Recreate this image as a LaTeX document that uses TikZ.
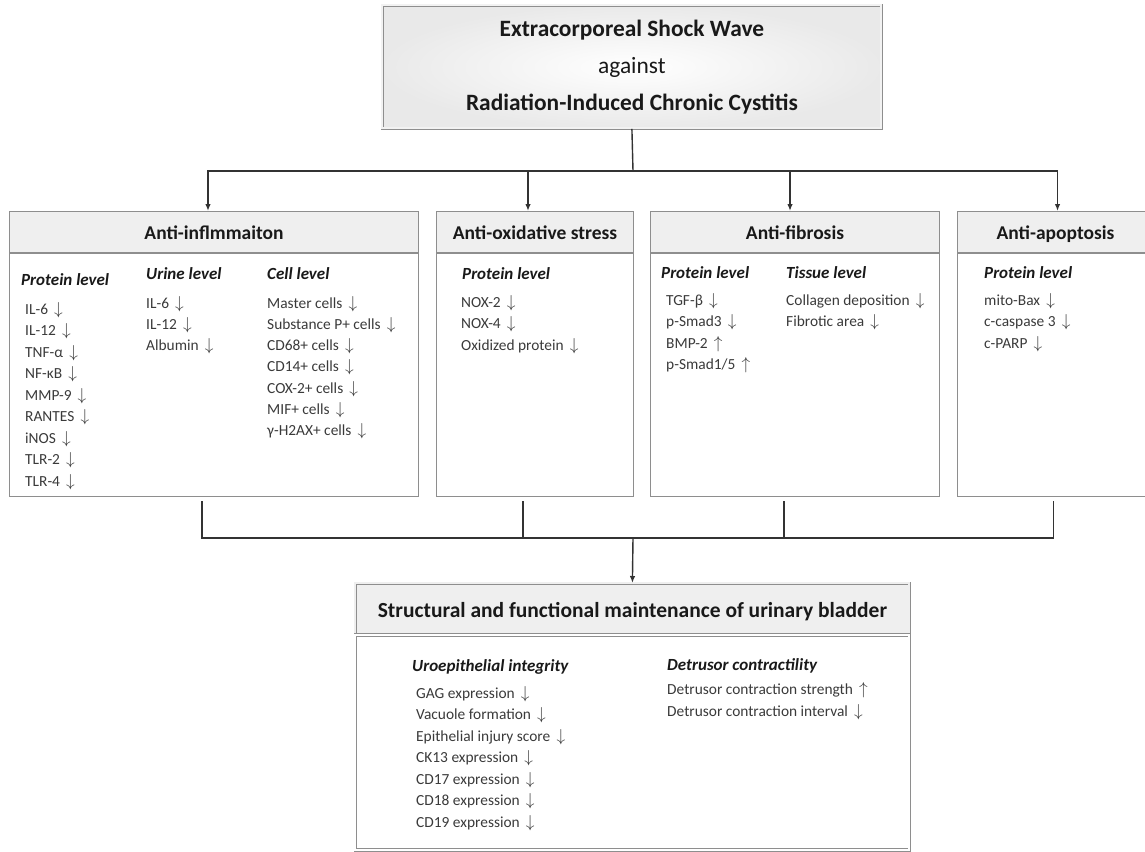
\documentclass[tikz,border=0pt]{standalone}
\usepackage{fontspec}
\setmainfont{Carlito}
\usetikzlibrary{arrows.meta,positioning}
\definecolor{boxline}{HTML}{8E8E8E}
\definecolor{hdrfill}{HTML}{EFEFEF}
\definecolor{itemtxt}{HTML}{3A3A3A}
\newcommand{\dnarr}{\hspace{0.4em}{\fontsize{18}{18}\selectfont$\downarrow$}}
\newcommand{\uparr}{\hspace{0.4em}{\fontsize{18}{18}\selectfont$\uparrow$}}
\begin{document}
\begin{tikzpicture}[x=1pt,y=-1pt]
  \tikzset{
  topbox/.style={draw=boxline,double=gray!10,double distance=2pt,line width=0.8pt,shading=radial,outer color=gray!17,inner color=white,anchor=north west,inner sep=0pt},
  hdr/.style={draw=boxline,fill=hdrfill,line width=1pt,anchor=north west,inner sep=0pt,text height=14.4pt,text depth=0pt,text=black!90,font=\fontsize{19.5}{19.5}\selectfont\bfseries},
  body/.style={draw=boxline,line width=1pt,anchor=north west,inner sep=0pt},
  dhdr/.style={hdr,line width=0.8pt,double=hdrfill,double distance=2pt,text height=18pt,font=\fontsize{21.5}{21.5}\selectfont\bfseries},
  dbody/.style={body,line width=0.8pt,double=white,double distance=2pt},
  lvl/.style={anchor=base west,inner sep=0pt,text=black!90,font=\fontsize{17}{17}\selectfont\bfseries\itshape},
  item/.style={anchor=base west,inner sep=0pt,text=itemtxt,font=\fontsize{15.4}{15.4}\selectfont},
  conn/.style={line width=1.4pt,black!80},
  arr/.style={conn,-{Latex[length=7pt,width=5.5pt]}},
  }
  \useasboundingbox (0,0) rectangle (1145,851);
  \clip (0,0) rectangle (1145,851);

  % the title box
  \node[topbox,minimum width=499,minimum height=123] (top) at (382,5) {};
  \node[align=center,font=\fontsize{23.4}{37}\selectfont,text=black!90] (toptxt) at (top.center)
    {\textbf{Extracorporeal Shock Wave}\\against\\\textbf{Radiation-Induced Chronic Cystitis}};

  % the four effect boxes
  \node[hdr,minimum width=409,minimum height=41] (h1) at (9,211) {Anti-inflmmaiton};
  \node[body,minimum width=409,minimum height=243] (b1) at (h1.south west) {};
  \node[hdr,minimum width=197,minimum height=41] (h2) at (436,211) {Anti-oxidative stress};
  \node[body,minimum width=197,minimum height=243] (b2) at (h2.south west) {};
  \node[hdr,minimum width=289,minimum height=41] (h3) at (650,211) {Anti-fibrosis};
  \node[body,minimum width=289,minimum height=243] (b3) at (h3.south west) {};
  \node[hdr,minimum width=196,minimum height=41] (h4) at (957,211) {Anti-apoptosis};
  \node[body,minimum width=196,minimum height=243] (b4) at (h4.south west) {};

  % the result box
  \node[dhdr,minimum width=554,minimum height=51] (h5) at (355,583) {Structural and functional maintenance of urinary bladder};
  \node[dbody,minimum width=554,minimum height=215] (b5) at (h5.south west) {};

  % anti-inflammation
  \node[lvl] (ipH) at (21,285) {Protein level};
  \foreach \t [count=\i] in {IL-6,IL-12,TNF-α,NF-κB,MMP-9,RANTES,iNOS,TLR-2,TLR-4}
    \node[item] (ip\i) at (25,{314+21.5*(\i-1)}) {\t\dnarr};
  \node[lvl] (iuH) at (146,279) {Urine level};
  \foreach \t [count=\i] in {IL-6,IL-12,Albumin}
    \node[item] (iu\i) at (146,{308+21.3*(\i-1)}) {\t\dnarr};
  \node[lvl] (icH) at (267,279) {Cell level};
  \foreach \t [count=\i] in {Master cells,Substance P+ cells,CD68+ cells,CD14+ cells,COX-2+ cells,MIF+ cells,γ-H2AX+ cells}
    \node[item] (ic\i) at (267,{308+21.3*(\i-1)}) {\t\dnarr};

  % anti-oxidative stress
  \node[lvl] (opH) at (462,279) {Protein level};
  \foreach \t [count=\i] in {NOX-2,NOX-4,Oxidized protein}
    \node[item] (op\i) at (461,{307+21.5*(\i-1)}) {\t\dnarr};

  % anti-fibrosis
  \node[lvl] (fpH) at (661,278) {Protein level};
  \node[item] (fp1) at (666,305) {TGF-β\dnarr};
  \node[item] (fp2) at (666,326.5) {p-Smad3\dnarr};
  \node[item] (fp3) at (666,348) {BMP-2\uparr};
  \node[item] (fp4) at (666,369.5) {p-Smad1/5\uparr};
  \node[lvl] (ftH) at (786,278) {Tissue level};
  \node[item] (ft1) at (786,305) {Collagen deposition\dnarr};
  \node[item] (ft2) at (786,326.5) {Fibrotic area\dnarr};

  % anti-apoptosis
  \node[lvl] (apH) at (984,278) {Protein level};
  \foreach \t [count=\i] in {mito-Bax,c-caspase 3,c-PARP}
    \node[item] (ap\i) at (984,{305+21.5*(\i-1)}) {\t\dnarr};

  % bladder
  \node[lvl] (buH) at (412,671) {Uroepithelial integrity};
  \foreach \t [count=\i] in {GAG expression,Vacuole formation,Epithelial injury score,CK13 expression,CD17 expression,CD18 expression,CD19 expression}
    \node[item] (bu\i) at (416,{698+21.5*(\i-1)}) {\t\dnarr};
  \node[lvl] (bdH) at (667,670) {Detrusor contractility};
  \node[item] (bd1) at (667,694) {Detrusor contraction strength\uparr};
  \node[item] (bd2) at (667,716) {Detrusor contraction interval\dnarr};

  % the connection between the boxes
  \coordinate (tj) at (633,171);
  \draw[conn] (top.south) -- (tj);
  \draw[arr] (tj) -| ([xshift=-6]h1.north);
  \draw[arr] (tj) -| ([xshift=-7]h2.north);
  \draw[arr] (tj) -| ([xshift=-5]h3.north);
  \draw[arr] (tj) -| ([xshift=2]h4.north);

  \coordinate (bj) at (633,538);
  \draw[conn] ([shift={(-12,4)}]b1.south) |- (bj);
  \draw[conn] ([shift={(-12,4)}]b2.south) |- (bj);
  \draw[conn] ([shift={(-11,4)}]b3.south) |- (bj);
  \draw[conn] ([shift={(-2,4)}]b4.south) |- (bj);
  \draw[arr] (bj) -- (h5.north);
\end{tikzpicture}
\end{document}
